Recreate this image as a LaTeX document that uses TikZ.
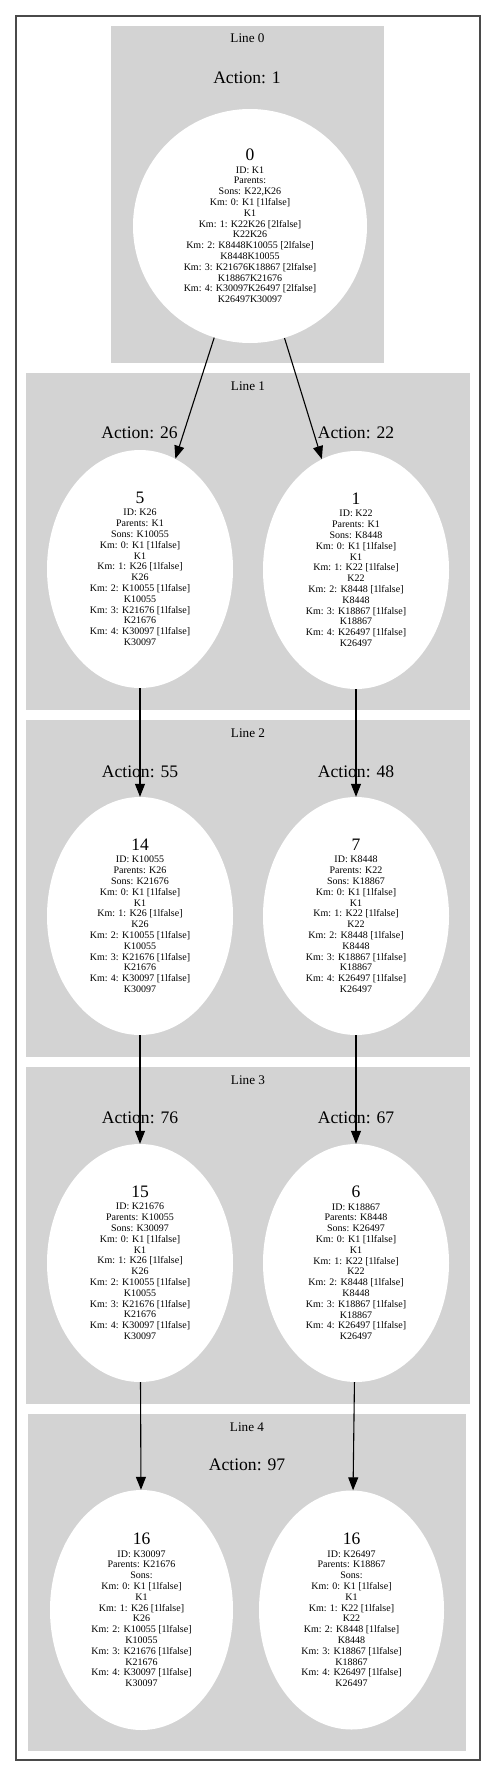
\documentclass[tikz,border=0pt]{standalone}
\usepackage{fontspec}
\setmainfont{Liberation Serif}
\usetikzlibrary{arrows.meta, shapes.geometric}
\definecolor{linegray}{HTML}{D3D3D3}
\definecolor{framegray}{HTML}{4A4A4A}
\newcommand{\stnum}[1]{{\fontsize{17.5}{17.5}\selectfont #1}\\[1.3pt]}

\begin{document}
\begin{tikzpicture}[
  x=1pt, y=-1pt,
  every node/.style={font=\fontsize{10}{10.8}\selectfont},
  linebox/.style={rectangle, fill=linegray, minimum width=444pt, minimum height=337pt, inner sep=0pt},
  linelabel/.style={font=\fontsize{13.2}{15}\selectfont, inner sep=0pt},
  actlabel/.style={font=\fontsize{17.6}{20}\selectfont, inner sep=0pt},
  statenode/.style={ellipse, fill=white, minimum width=186pt, minimum height=238pt, inner sep=0pt, align=center},
  tree/.style={-{Stealth[length=13pt, width=10pt, inset=0pt]}, line width=1.1pt},
]
\useasboundingbox (0,0) rectangle (496,1777);
\draw[framegray, line width=1.4pt] (16,16) rectangle (480,1760);

% lines
\node[linebox, minimum width=273pt] (c0) at (247.5,194.5) {};
\node[linebox] (c1) at (248,541.5) {};
\node[linebox] (c2) at (248,888.5) {};
\node[linebox] (c3) at (248,1235.5) {};
\node[linebox, minimum width=438pt] (c4) at (247,1582.5) {};

\node[linelabel] (l0) at (247.5,38) {Line 0};
\node[linelabel] (l1) at (248,386) {Line 1};
\node[linelabel] (l2) at (248,733) {Line 2};
\node[linelabel] (l3) at (248,1080) {Line 3};
\node[linelabel] (l4) at (247,1427) {Line 4};

\node[actlabel] (a1) at (247,78) {Action: 1};
\node[actlabel] (a26) at (139.5,433) {Action: 26};
\node[actlabel] (a22) at (356,433) {Action: 22};
\node[actlabel] (a55) at (140,772) {Action: 55};
\node[actlabel] (a48) at (356,772) {Action: 48};
\node[actlabel] (a76) at (140,1118) {Action: 76};
\node[actlabel] (a67) at (356,1118) {Action: 67};
\node[actlabel] (a97) at (247,1465) {Action: 97};

% states
\node[statenode, minimum width=234pt, minimum height=234pt] (n0) at (250,226) {\stnum{0}ID: K1\\Parents:\\Sons: K22,K26\\Km: 0: K1 [1lfalse]\\K1\\Km: 1: K22K26 [2lfalse]\\K22K26\\Km: 2: K8448K10055 [2lfalse]\\K8448K10055\\Km: 3: K21676K18867 [2lfalse]\\K18867K21676\\Km: 4: K30097K26497 [2lfalse]\\K26497K30097};

\node[statenode] (n5) at (140,569) {\stnum{5}ID: K26\\Parents: K1\\Sons: K10055\\Km: 0: K1 [1lfalse]\\K1\\Km: 1: K26 [1lfalse]\\K26\\Km: 2: K10055 [1lfalse]\\K10055\\Km: 3: K21676 [1lfalse]\\K21676\\Km: 4: K30097 [1lfalse]\\K30097};
\node[statenode] (n1) at (356,570) {\stnum{1}ID: K22\\Parents: K1\\Sons: K8448\\Km: 0: K1 [1lfalse]\\K1\\Km: 1: K22 [1lfalse]\\K22\\Km: 2: K8448 [1lfalse]\\K8448\\Km: 3: K18867 [1lfalse]\\K18867\\Km: 4: K26497 [1lfalse]\\K26497};

\node[statenode] (n14) at (140,916) {\stnum{14}ID: K10055\\Parents: K26\\Sons: K21676\\Km: 0: K1 [1lfalse]\\K1\\Km: 1: K26 [1lfalse]\\K26\\Km: 2: K10055 [1lfalse]\\K10055\\Km: 3: K21676 [1lfalse]\\K21676\\Km: 4: K30097 [1lfalse]\\K30097};
\node[statenode] (n7) at (356,916) {\stnum{7}ID: K8448\\Parents: K22\\Sons: K18867\\Km: 0: K1 [1lfalse]\\K1\\Km: 1: K22 [1lfalse]\\K22\\Km: 2: K8448 [1lfalse]\\K8448\\Km: 3: K18867 [1lfalse]\\K18867\\Km: 4: K26497 [1lfalse]\\K26497};

\node[statenode] (n15) at (140,1263) {\stnum{15}ID: K21676\\Parents: K10055\\Sons: K30097\\Km: 0: K1 [1lfalse]\\K1\\Km: 1: K26 [1lfalse]\\K26\\Km: 2: K10055 [1lfalse]\\K10055\\Km: 3: K21676 [1lfalse]\\K21676\\Km: 4: K30097 [1lfalse]\\K30097};
\node[statenode] (n6) at (356,1263) {\stnum{6}ID: K18867\\Parents: K8448\\Sons: K26497\\Km: 0: K1 [1lfalse]\\K1\\Km: 1: K22 [1lfalse]\\K22\\Km: 2: K8448 [1lfalse]\\K8448\\Km: 3: K18867 [1lfalse]\\K18867\\Km: 4: K26497 [1lfalse]\\K26497};

\node[statenode, minimum width=183pt, minimum height=240pt] (n16a) at (141.5,1610) {\stnum{16}ID: K30097\\Parents: K21676\\Sons:\\Km: 0: K1 [1lfalse]\\K1\\Km: 1: K26 [1lfalse]\\K26\\Km: 2: K10055 [1lfalse]\\K10055\\Km: 3: K21676 [1lfalse]\\K21676\\Km: 4: K30097 [1lfalse]\\K30097};
\node[statenode, minimum width=185pt, minimum height=239pt] (n16b) at (351.5,1610) {\stnum{16}ID: K26497\\Parents: K18867\\Sons:\\Km: 0: K1 [1lfalse]\\K1\\Km: 1: K22 [1lfalse]\\K22\\Km: 2: K8448 [1lfalse]\\K8448\\Km: 3: K18867 [1lfalse]\\K18867\\Km: 4: K26497 [1lfalse]\\K26497};

% edges
\draw[tree] (n0) -- (n5);
\draw[tree] (n0) -- (n1);
\draw[tree] (n5) -- (n14);
\draw[tree] (n1) -- (n7);
\draw[tree] (n14) -- (n15);
\draw[tree] (n7) -- (n6);
\draw[tree] (n15) -- (n16a);
\draw[tree] (n6) -- (n16b);
\end{tikzpicture}
\end{document}
